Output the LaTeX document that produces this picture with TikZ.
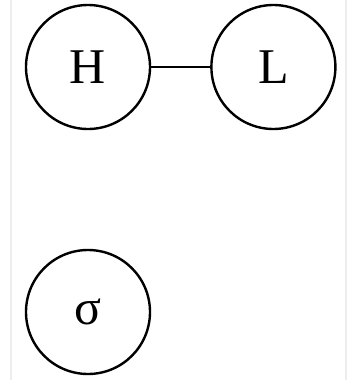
\documentclass[tikz,border=0pt]{standalone}
\usepackage{fontspec}
\setmainfont{Liberation Serif}
\usepackage{tikz}
\usetikzlibrary{positioning}
\tikzset{
  atom/.style={
    circle,
    draw=black,
    line width=2.4pt,
    minimum size=124pt,
    inner sep=0pt,
    font=\fontsize{50}{54}\selectfont
  },
  bond/.style={
    draw=black,
    line width=2.4pt
  },
  frame edge/.style={
    draw=black!7,
    line width=1.5pt
  }
}
\begin{document}
\begin{tikzpicture}[x=1pt,y=-1pt]
  \useasboundingbox (0,0) rectangle (350,380);

  % faint frame edges
  \draw[frame edge] (11,0) -- (11,380);
  \draw[frame edge] (346,0) -- (346,380);

  % atoms
  \node[atom] (H) at (88,67) {H};
  \node[atom, right=59pt of H] (L) {L};
  \node[atom] (sigma) at (88,312) {σ};

  % bond
  \draw[bond] (H) -- (L);

\end{tikzpicture}
\end{document}
